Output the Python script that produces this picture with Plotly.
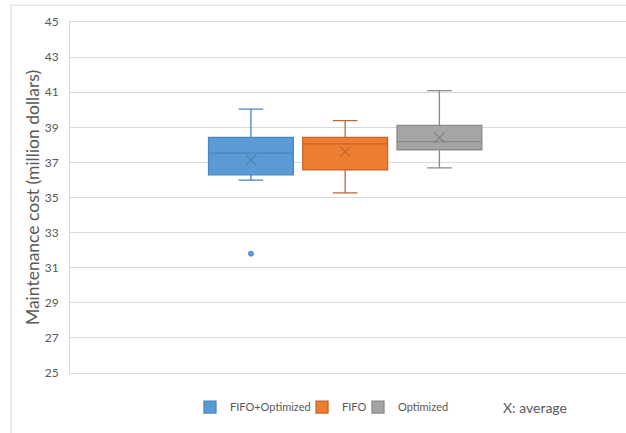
import plotly.graph_objects as go

series = ["FIFO+Optimized", "FIFO", "Optimized"]
lower_whisker = [35.99, 35.26, 36.69]
q1_vals = [36.29, 36.58, 37.72]
median_vals = [37.53, 38.05, 38.18]
q3_vals = [38.43, 38.43, 39.11]
upper_whisker = [40.03, 39.38, 41.09]
mean_vals = [37.13, 37.61, 38.41]
outlier_series = [0]
outlier_vals = [31.8]
y_ticks = [25, 27, 29, 31, 33, 35, 37, 39, 41, 43, 45]

fills = ["#5B9BD5", "#ED7D31", "#A5A5A5"]
lines = ["#4A86C0", "#C8662A", "#8A8A8A"]
mean_cols = ["#4F7FAF", "#C0692F", "#7F7F7F"]
legend_names = ["legend", "legend2", "legend3"]
legend_x = [0.2158, 0.4173, 0.518]

FONT = "Lato"
GREY = "#595959"

fig = go.Figure()
for i, name in enumerate(series):
    fig.add_trace(go.Box(
        name=name, x=[i], q1=[q1_vals[i]], median=[median_vals[i]], q3=[q3_vals[i]],
        lowerfence=[lower_whisker[i]], upperfence=[upper_whisker[i]],
        fillcolor=fills[i], line=dict(color=lines[i], width=1.3),
        width=0.9, whiskerwidth=0.29, boxpoints=False, hoverinfo="skip",
        showlegend=True, legend=legend_names[i],
    ))
for i, name in enumerate(series):
    fig.add_trace(go.Scatter(
        x=[i], y=[mean_vals[i]], mode="markers", showlegend=False,
        marker=dict(symbol="x-thin-open", size=10, color=mean_cols[i],
                    line=dict(color=mean_cols[i], width=1.2)),
        hoverinfo="skip",
    ))
fig.add_trace(go.Scatter(
    x=outlier_series, y=outlier_vals, mode="markers", showlegend=False,
    marker=dict(symbol="circle", size=5, color=fills[0], line=dict(color=lines[0], width=1)),
    hoverinfo="skip",
))

leg_common = dict(orientation="h", y=-0.097, xanchor="left", yanchor="middle",
                  font=dict(size=11, color=GREY), itemwidth=30, bgcolor="rgba(0,0,0,0)")

fig.update_layout(
    width=626, height=433,
    margin=dict(l=70, r=0, t=22, b=60),
    paper_bgcolor="white", plot_bgcolor="white",
    font=dict(family=FONT, color=GREY, size=12),
    xaxis=dict(range=[-1.92, 3.98], showticklabels=False, ticks="", showgrid=False,
               zeroline=False, showline=True, mirror=True, linecolor="#D9D9D9", linewidth=1,
               automargin=False),
    yaxis=dict(range=[25, 45], tickvals=y_ticks, showgrid=True, gridcolor="#D9D9D9",
               gridwidth=1, zeroline=False, showline=True, linecolor="#D9D9D9", linewidth=1,
               ticks="", ticklabelstandoff=8, tickfont=dict(size=12, color=GREY),
               automargin=False,
               title=dict(text="Maintenance cost (million dollars)", standoff=0,
                          font=dict(size=17.5, color=GREY))),
    legend=dict(x=legend_x[0], **leg_common),
    legend2=dict(x=legend_x[1], **leg_common),
    legend3=dict(x=legend_x[2], **leg_common),
    showlegend=True,
    annotations=[dict(text="X: average", xref="paper", yref="paper", x=0.7754, y=-0.097,
                      xanchor="left", yanchor="middle", showarrow=False,
                      font=dict(size=14, color=GREY, family=FONT))],
    shapes=[dict(type="rect", xref="paper", yref="paper", x0=-0.106, y0=-0.3, x1=1.2, y1=1.048,
                 line=dict(color="#D9D9D9", width=1), fillcolor="rgba(0,0,0,0)", layer="below")],
)

fig.write_html("out.html", config={"displayModeBar": False},
               post_script="document.body.style.margin='0';")
